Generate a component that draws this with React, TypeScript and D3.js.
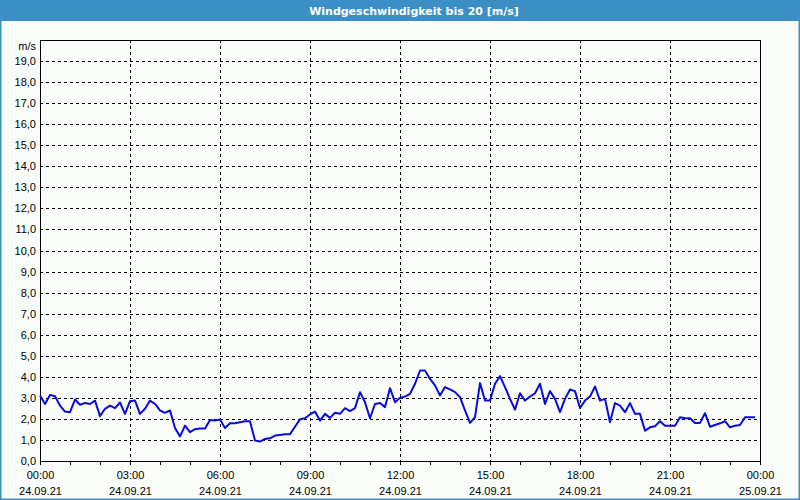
import React, { useEffect, useRef } from "react";
import * as d3 from "d3";

// Wind speed values (m/s), one every 10 minutes from 24.09.21 00:00 to 23:50
const speedsNight: number[] = [
  3.11, 2.71, 3.14, 3.08, 2.63, 2.35, 2.32, 2.92, 2.67, 2.76, 2.71, 2.87,
  2.13, 2.48, 2.63, 2.51, 2.78, 2.24, 2.84, 2.87, 2.24, 2.48, 2.87, 2.71,
  2.40, 2.29, 2.40, 1.57, 1.17, 1.68, 1.37, 1.51, 1.54, 1.54, 1.95, 1.92,
];
const speedsMorning: number[] = [
  1.97, 1.57, 1.79, 1.79, 1.84, 1.89, 1.89, 0.97, 0.92, 1.05, 1.08, 1.21,
  1.24, 1.27, 1.27, 1.63, 1.98, 2.03, 2.21, 2.35, 1.92, 2.24, 2.05, 2.29,
  2.24, 2.51, 2.37, 2.51, 3.27, 2.79, 2.03, 2.71, 2.76, 2.56, 3.46, 2.79,
];
const speedsAfternoon: number[] = [
  3.0, 3.06, 3.19, 3.67, 4.3, 4.3, 3.9, 3.59, 3.11, 3.51, 3.4, 3.27,
  3.03, 2.4, 1.81, 2.08, 3.7, 2.87, 2.87, 3.67, 4.03, 3.51, 2.95, 2.44,
  3.22, 2.87, 3.06, 3.22, 3.67, 2.71, 3.32, 2.95, 2.32, 2.95, 3.4, 3.32,
];
const speedsEvening: number[] = [
  2.52, 2.87, 3.06, 3.54, 2.87, 2.95, 1.84, 2.75, 2.63, 2.32, 2.75, 2.24,
  2.24, 1.44, 1.6, 1.65, 1.89, 1.68, 1.68, 1.68, 2.08, 2.03, 2.03, 1.81,
  1.81, 2.27, 1.63, 1.71, 1.79, 1.89, 1.6, 1.68, 1.71, 2.08, 2.08, 2.08,
];

const yTicks: number[] = d3.range(0, 20, 1);
const xTickHours: number[] = [0, 3, 6, 9, 12, 15, 18, 21, 24];
const xTimeLabels: string[] = ["00:00", "03:00", "06:00", "09:00", "12:00", "15:00", "18:00", "21:00", "00:00"];
const xDateLabels: string[] = ["24.09.21", "24.09.21", "24.09.21", "24.09.21", "24.09.21", "24.09.21", "24.09.21", "24.09.21", "25.09.21"];
const title = "Windgeschwindigkeit bis 20 [m/s]";
const unit = "m/s";

export default function App() {
  const ref = useRef<SVGSVGElement>(null);

  useEffect(() => {
    document.body.style.margin = "0";
    const svg = d3.select(ref.current);
    svg.selectAll("*").remove();

    const W = 800, H = 500;
    const left = 40, right = 760, top = 40, bottom = 461;
    const font = "Liberation Sans, Arial, sans-serif";

    const values = [...speedsNight, ...speedsMorning, ...speedsAfternoon, ...speedsEvening];
    const data = values.map((v, i) => ({ h: i / 6, v }));

    const x = d3.scaleLinear().domain([0, 24]).range([left, right]);
    const y = d3.scaleLinear().domain([0, 20]).range([bottom, top]);

    // background & frame
    svg.append("rect").attr("x", 0).attr("y", 0).attr("width", W).attr("height", H).attr("fill", "#fbfdfb");
    svg.append("rect").attr("x", 0).attr("y", 0).attr("width", W).attr("height", 21).attr("fill", "#3c8fc6");
    svg.append("rect").attr("x", 0.5).attr("y", 0.5).attr("width", W - 1).attr("height", H - 1)
      .attr("fill", "none").attr("stroke", "#3c8fc6").attr("stroke-width", 2);

    svg.append("text").attr("x", 414).attr("y", 15).attr("text-anchor", "middle")
      .attr("font-family", "DejaVu Sans, sans-serif").attr("font-weight", "bold").attr("font-size", 11)
      .attr("fill", "#ffffff").text(title);

    // horizontal grid
    svg.append("g").selectAll("line").data(yTicks.filter((t) => t > 0)).join("line")
      .attr("x1", left).attr("x2", right)
      .attr("y1", (d) => Math.round(y(d)) + 0.5).attr("y2", (d) => Math.round(y(d)) + 0.5)
      .attr("stroke", "#000").attr("stroke-width", 1).attr("stroke-dasharray", "3,3");

    // vertical grid
    svg.append("g").selectAll("line").data(xTickHours.filter((h) => h > 0 && h < 24)).join("line")
      .attr("y1", top).attr("y2", bottom)
      .attr("x1", (d) => Math.round(x(d)) + 0.5).attr("x2", (d) => Math.round(x(d)) + 0.5)
      .attr("stroke", "#000").attr("stroke-width", 1).attr("stroke-dasharray", "3,3");

    // plot border
    svg.append("rect").attr("x", left + 0.5).attr("y", top + 0.5)
      .attr("width", right - left).attr("height", bottom - top)
      .attr("fill", "none").attr("stroke", "#000").attr("stroke-width", 1);

    // y labels
    svg.append("g").selectAll("text").data(yTicks).join("text")
      .attr("x", 36).attr("y", (d) => y(d) + 4).attr("text-anchor", "end")
      .attr("font-family", font).attr("font-size", 11).attr("fill", "#000")
      .text((d) => d3.format(".1f")(d).replace(".", ","));
    svg.append("text").attr("x", 36).attr("y", 50).attr("text-anchor", "end")
      .attr("font-family", font).attr("font-size", 11).attr("fill", "#000").text(unit);

    // x ticks (hourly)
    svg.append("g").selectAll("line").data(d3.range(0, 25)).join("line")
      .attr("x1", (d) => Math.round(x(d)) + 0.5).attr("x2", (d) => Math.round(x(d)) + 0.5)
      .attr("y1", bottom).attr("y2", bottom + 4)
      .attr("stroke", "#000").attr("stroke-width", 1);

    const lbl = svg.append("g").selectAll("g").data(xTickHours).join("g");
    lbl.append("text").attr("x", (d) => x(d) + 0.5).attr("y", 479).attr("text-anchor", "middle")
      .attr("font-family", font).attr("font-size", 11).attr("fill", "#000")
      .text((_, i) => xTimeLabels[i]);
    lbl.append("text").attr("x", (d) => x(d) + 0.5).attr("y", 495).attr("text-anchor", "middle")
      .attr("font-family", font).attr("font-size", 11).attr("fill", "#000")
      .text((_, i) => xDateLabels[i]);

    // data line
    const line = d3.line<{ h: number; v: number }>().x((d) => x(d.h)).y((d) => y(d.v));
    svg.append("path").datum(data).attr("d", line).attr("fill", "none")
      .attr("stroke", "#0a0adc").attr("stroke-width", 2).attr("stroke-linejoin", "round");
  }, []);

  return <svg ref={ref} width={800} height={500} style={{ display: "block" }} />;
}
